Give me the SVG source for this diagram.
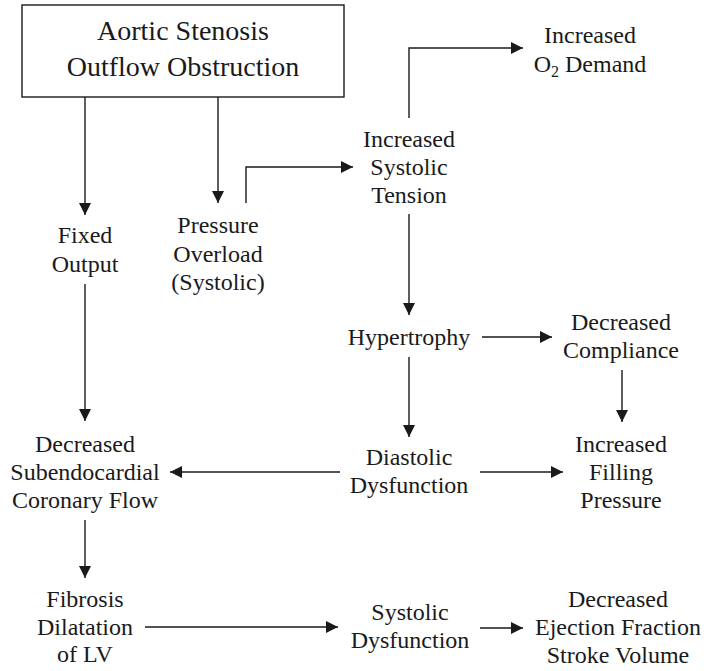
<svg xmlns="http://www.w3.org/2000/svg" width="704" height="671" viewBox="0 0 704 671">
<defs>
<marker id="ah" markerUnits="userSpaceOnUse" markerWidth="13" markerHeight="12" refX="12" refY="6" orient="auto">
<path d="M0,0 L12,6 L0,12 z" fill="#1a1a1a"/>
</marker>
<style>
text{font-family:"Liberation Serif","Times New Roman",serif;font-size:24px;fill:#1a1a1a;text-anchor:middle}
.big{font-size:28px}
.c{fill:none;stroke:#1a1a1a;stroke-width:1.4;marker-end:url(#ah)}
</style>
</defs>
<rect width="704" height="671" fill="#fff"/>
<g id="connectors">
<path class="c" d="M85,97 V215"/>
<path class="c" d="M218,97 V203"/>
<path class="c" d="M246,203 V167 H353"/>
<path class="c" d="M409,118 V48 H523"/>
<path class="c" d="M409,214 V315"/>
<path class="c" d="M482,337 H552"/>
<path class="c" d="M622,370 V422"/>
<path class="c" d="M409,357 V437"/>
<path class="c" d="M480,472 H563"/>
<path class="c" d="M340,472 H170"/>
<path class="c" d="M85,284 V421"/>
<path class="c" d="M85,520 V578"/>
<path class="c" d="M145,627 H338"/>
<path class="c" d="M480,628 H523"/>
</g>
<g id="aortic">
<rect x="22" y="5" width="322" height="92" fill="#fff" stroke="#1a1a1a" stroke-width="1.4"/>
<text class="big" x="183" y="40">Aortic Stenosis</text>
<text class="big" x="183" y="76">Outflow Obstruction</text>
</g>
<g id="o2demand">
<text x="590" y="43">Increased</text>
<text x="590" y="72">O<tspan font-size="16" dy="5">2</tspan><tspan dy="-5"> Demand</tspan></text>
</g>
<g id="tension">
<text x="409" y="147">Increased</text>
<text x="409" y="175">Systolic</text>
<text x="409" y="203">Tension</text>
</g>
<g id="fixed">
<text x="85" y="243">Fixed</text>
<text x="85" y="272">Output</text>
</g>
<g id="pressure">
<text x="218" y="233">Pressure</text>
<text x="218" y="262">Overload</text>
<text x="218" y="290">(Systolic)</text>
</g>
<g id="hypertrophy">
<text x="409" y="345">Hypertrophy</text>
</g>
<g id="compliance">
<text x="621" y="330">Decreased</text>
<text x="621" y="358">Compliance</text>
</g>
<g id="filling">
<text x="621" y="452">Increased</text>
<text x="621" y="480">Filling</text>
<text x="621" y="508">Pressure</text>
</g>
<g id="diastolic">
<text x="409" y="465">Diastolic</text>
<text x="409" y="493">Dysfunction</text>
</g>
<g id="coronary">
<text x="85" y="452">Decreased</text>
<text x="85" y="480">Subendocardial</text>
<text x="85" y="508">Coronary Flow</text>
</g>
<g id="fibrosis">
<text x="85" y="607">Fibrosis</text>
<text x="85" y="635">Dilatation</text>
<text x="85" y="662">of LV</text>
</g>
<g id="systolic">
<text x="410" y="620">Systolic</text>
<text x="410" y="648">Dysfunction</text>
</g>
<g id="ejection">
<text x="618" y="607">Decreased</text>
<text x="618" y="635">Ejection Fraction</text>
<text x="618" y="663">Stroke Volume</text>
</g>
</svg>
